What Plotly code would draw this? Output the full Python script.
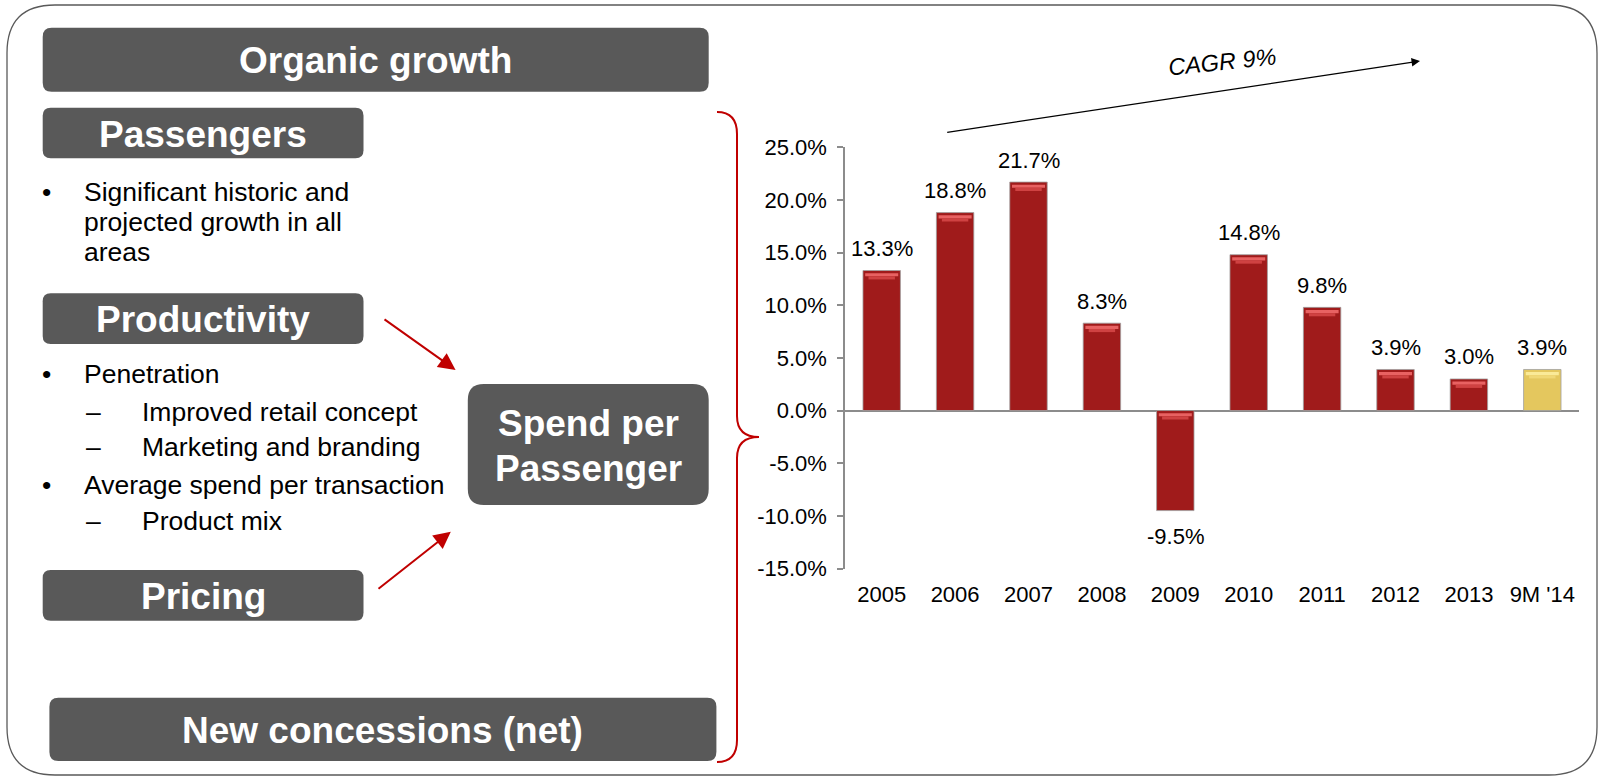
import plotly.graph_objects as go

# ---- data -------------------------------------------------------------
categories = ["2005", "2006", "2007", "2008", "2009", "2010", "2011", "2012", "2013", "9M '14"]
growth = [13.3, 18.8, 21.7, 8.3, -9.5, 14.8, 9.8, 3.9, 3.0, 3.9]
y_ticks = [-15, -10, -5, 0, 5, 10, 15, 20, 25]
y_tick_labels = ["-15.0%", "-10.0%", "-5.0%", "0.0%", "5.0%", "10.0%", "15.0%", "20.0%", "25.0%"]
partial_year = "9M '14"

# ---- styling ----------------------------------------------------------
W, H = 1598, 777
FONT = "Liberation Sans, Arial, sans-serif"
BOX = "#595959"
RED = "#C00000"
BAR_RED, BAR_RED_HI, BAR_RED_MID = "#A01B1B", "#E86262", "#CF4242"
BAR_GOLD, BAR_GOLD_HI, BAR_GOLD_MID = "#E4C75E", "#FAEA98", "#F0D877"
AXIS = "#8C8C8C"
CHART_FS = 22
HEAD_FS = 37
BODY_FS = 26.5

is_partial = [c == partial_year for c in categories]
bar_colors = [BAR_GOLD if p else BAR_RED for p in is_partial]
hi_colors = [BAR_GOLD_HI if p else BAR_RED_HI for p in is_partial]
mid_colors = [BAR_GOLD_MID if p else BAR_RED_MID for p in is_partial]
tops = [max(v, 0) for v in growth]

fig = go.Figure()

# main bars
fig.add_trace(go.Bar(
    x=categories, y=growth, width=0.51,
    marker=dict(color=bar_colors, line=dict(color="rgba(160,160,160,0.8)", width=1)),
    hoverinfo="skip", showlegend=False,
))
# bevel on the top edge of every bar: a bright upper band over a narrower, softer one
fig.add_trace(go.Bar(
    x=categories, y=[0.3] * len(growth), base=[t - 0.55 for t in tops], width=0.45,
    marker=dict(color=hi_colors, line=dict(width=0)),
    hoverinfo="skip", showlegend=False,
))
fig.add_trace(go.Bar(
    x=categories, y=[0.3] * len(growth), base=[t - 0.85 for t in tops], width=0.36,
    marker=dict(color=mid_colors, line=dict(width=0)),
    hoverinfo="skip", showlegend=False,
))
# invisible trace that keeps the pixel-space overlay axes alive
fig.add_trace(go.Scatter(x=[W / 2], y=[H / 2], xaxis="x2", yaxis="y2", mode="markers",
                         marker=dict(opacity=0, size=1), hoverinfo="skip", showlegend=False))

annotations = []
# value labels (x given as category index so numeric-looking years stay categorical)
for i, v in enumerate(growth):
    annotations.append(dict(
        x=i, y=max(v, 0) if v >= 0 else v, xref="x", yref="y",
        text=f"{v:.1f}%", showarrow=False, yanchor="middle",
        yshift=22 if v >= 0 else -26,
        font=dict(family=FONT, size=CHART_FS, color="#000"),
    ))

shapes = []


def rrect(x0, y0, x1, y1, r):
    return (f"M{x0+r},{y0} L{x1-r},{y0} Q{x1},{y0} {x1},{y0+r} "
            f"L{x1},{y1-r} Q{x1},{y1} {x1-r},{y1} L{x0+r},{y1} "
            f"Q{x0},{y1} {x0},{y1-r} L{x0},{y0+r} Q{x0},{y0} {x0+r},{y0} Z")


def px_shape(path, fill=None, line_color=None, line_width=0):
    shapes.append(dict(
        type="path", path=path, xref="x2", yref="y2", layer="below",
        fillcolor=fill if fill else "rgba(0,0,0,0)",
        line=dict(color=line_color if line_color else "rgba(0,0,0,0)", width=line_width),
    ))


def px_text(x, y, text, size, color="#000", anchor="left", bold=False, angle=0):
    if bold:
        text = f"<b>{text}</b>"
    annotations.append(dict(
        x=x, y=y, xref="x2", yref="y2", text=text, showarrow=False,
        xanchor=anchor, yanchor="middle", textangle=angle,
        font=dict(family=FONT, size=size, color=color),
    ))


def px_arrow(x0, y0, x1, y1, color, width, head_size):
    annotations.append(dict(
        x=x1, y=y1, ax=x0, ay=y0, xref="x2", yref="y2", axref="x2", ayref="y2",
        text="", showarrow=True, arrowhead=2, arrowsize=head_size,
        arrowwidth=width, arrowcolor=color, standoff=0,
    ))


# outer frame
px_shape(rrect(7, 5, 1597, 775, 48), line_color="#5A5A5A", line_width=1.3)

# heading boxes
heading_boxes = [
    ("Organic growth", 42.7, 27.7, 708.7, 91.7, 9),
    ("Passengers", 42.7, 107.7, 363.5, 158.3, 8),
    ("Productivity", 42.7, 293.3, 363.5, 344.0, 8),
    ("Pricing", 42.7, 570.0, 363.5, 620.7, 8),
    ("New concessions (net)", 49.4, 697.7, 716.4, 761.0, 9),
]
for label, x0, y0, x1, y1, r in heading_boxes:
    px_shape(rrect(x0, y0, x1, y1, r), fill=BOX)
    px_text((x0 + x1) / 2, (y0 + y1) / 2 + 1, label, HEAD_FS, "#FFFFFF", "center", bold=True)

# central box
px_shape(rrect(467.8, 384.0, 708.7, 505.0, 16), fill=BOX)
px_text(588, 423, "Spend per", HEAD_FS, "#FFFFFF", "center", bold=True)
px_text(588, 468, "Passenger", HEAD_FS, "#FFFFFF", "center", bold=True)

# bullet lists
bullets = [
    ("•", "Significant historic and", 192),
    (None, "projected growth in all", 222),
    (None, "areas", 252),
    ("•", "Penetration", 374),
    ("–", "Improved retail concept", 411.7),
    ("–", "Marketing and branding", 447),
    ("•", "Average spend per transaction", 485),
    ("–", "Product mix", 520.7),
]
for mark, line, y in bullets:
    if mark == "•":
        px_text(46, y, "•", BODY_FS, anchor="center")
        px_text(81.5, y, line, BODY_FS)
    elif mark == "–":
        px_text(93, y, "–", BODY_FS, anchor="center")
        px_text(139.5, y, line, BODY_FS)
    else:
        px_text(81.5, y, line, BODY_FS)

# red arrows into the central box
px_arrow(383, 318.3, 455.6, 370, RED, 2, 1.7)
px_arrow(377, 590, 450.8, 531.7, RED, 2, 1.7)

# curly brace joining the left panel to the chart
brace = ("M717,112 Q737,112 737,134 L737,416 Q737,437 759,437 "
         "Q737,437 737,458 L737,740 Q737,762 717,762")
px_shape(brace, line_color=RED, line_width=2)

# CAGR trend arrow
px_arrow(945.7, 132.5, 1420, 61, "#000000", 1.3, 1.3)
px_text(1222, 62, "<i>CAGR 9%</i>", 23.5, anchor="center", angle=-6)

fig.update_layout(
    width=W, height=H, autosize=False,
    margin=dict(l=0, r=0, t=0, b=0, pad=0, autoexpand=False),
    paper_bgcolor="#FFFFFF", plot_bgcolor="rgba(0,0,0,0)",
    barmode="overlay", showlegend=False,
    font=dict(family=FONT, size=CHART_FS, color="#000"),
    xaxis=dict(
        type="category", categoryorder="array", categoryarray=categories,
        range=[-0.5, len(categories) - 0.5],
        domain=[845 / W, 1579 / W], anchor="y", automargin=False,
        showline=False, showgrid=False, zeroline=False,
        ticks="outside", ticklen=6, tickcolor="rgba(0,0,0,0)",
        tickfont=dict(family=FONT, size=CHART_FS, color="#000"),
        fixedrange=True,
    ),
    yaxis=dict(
        domain=[(H - 568.5) / H, (H - 147.3) / H], anchor="x", automargin=False,
        range=[-15, 25], tickvals=y_ticks, ticktext=y_tick_labels,
        showgrid=False, showline=True, linecolor=AXIS, linewidth=1.5,
        zeroline=True, zerolinecolor=AXIS, zerolinewidth=2,
        ticks="outside", ticklen=6, tickcolor=AXIS, tickwidth=1.5,
        ticklabelstandoff=6,
        tickfont=dict(family=FONT, size=CHART_FS, color="#000"),
        fixedrange=True,
    ),
    xaxis2=dict(domain=[0, 1], range=[0, W], visible=False, anchor="y2",
                automargin=False, fixedrange=True),
    yaxis2=dict(domain=[0, 1], range=[H, 0], visible=False, anchor="x2",
                automargin=False, fixedrange=True),
    shapes=shapes,
    annotations=annotations,
)

fig.write_html("out.html", config={"displayModeBar": False})
